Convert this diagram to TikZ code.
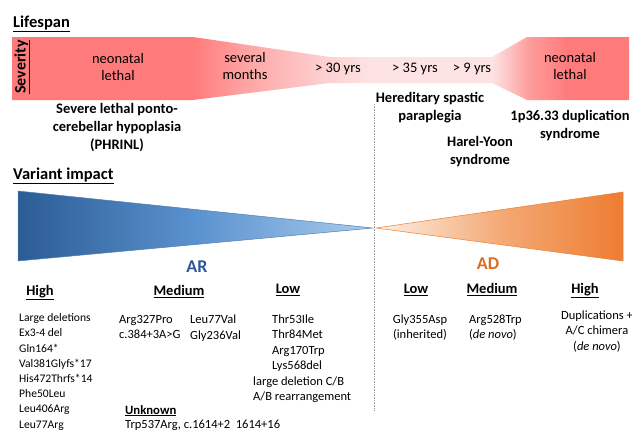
\documentclass[tikz,border=0pt]{standalone}
\usepackage{fontspec}
\setmainfont{Carlito}
\usepackage{tikz}
\usetikzlibrary{calc}

\definecolor{sevred}{HTML}{FF7B7B}
\definecolor{sevpink}{HTML}{FDE3E3}
\definecolor{ardark}{HTML}{2C5C95}
\definecolor{armid}{HTML}{5A92CF}
\definecolor{arlight}{HTML}{AACCEC}
\definecolor{artext}{HTML}{2F5597}
\definecolor{adlight}{HTML}{FDF0E7}
\definecolor{admid}{HTML}{F4AA76}
\definecolor{adorange}{HTML}{ED7D31}
\definecolor{adtext}{HTML}{DB6C22}

% band: solid red, fading to pink in the middle, red again on the right
\pgfdeclarehorizontalshading{severityshade}{100bp}{color(0bp)=(sevred); color(39.7bp)=(sevred);
    color(44bp)=(sevred!60!sevpink); color(50bp)=(sevred!20!sevpink); color(54bp)=(sevpink);
    color(63.9bp)=(sevpink); color(67bp)=(sevred!70!sevpink); color(70bp)=(sevred); color(100bp)=(sevred)}

\begin{document}
\begin{tikzpicture}[
        x=1pt, y=-1pt,
        title/.style={
            font=\fontsize{16.5}{20}\selectfont\bfseries,
            anchor=base west,
            inner sep=0pt
        },
        bandtext/.style={
            font=\fontsize{14.5}{17}\selectfont,
            align=center,
            inner sep=0pt
        },
        disease/.style={
            font=\fontsize{14.5}{18}\selectfont\bfseries,
            align=center,
            anchor=north,
            inner sep=0pt
        },
        header/.style={
            font=\fontsize{14.5}{17}\selectfont\bfseries,
            anchor=base,
            inner sep=0pt
        },
        variants/.style={
            font=\fontsize{12.5}{15.5}\selectfont,
            align=left,
            anchor=north west,
            inner sep=0pt
        },
        inheritance/.style={
            font=\fontsize{18}{20}\selectfont\bfseries,
            anchor=base,
            inner sep=0pt
        }
    ]

        \useasboundingbox (0,0) rectangle (632,431);

        % lifespan band
        \node[title] (lifespan) at (13,27.5) {\underline{Lifespan}};
        \path[shading=severityshade] (12,37) -- (193,37) -- (330,57) -- (492,57) -- (527,37) -- (629,37)
            -- (629,100) -- (527,100) -- (492,83) -- (330,83) -- (193,100) -- (12,100) -- cycle;
        \node[font=\fontsize{16}{18}\selectfont\bfseries, rotate=90, anchor=base, inner sep=0pt] (severity) at (25.5,67) {\underline{Severity}};

        \node[bandtext] (neolethal) at (118,67.5) {neonatal\\lethal};
        \node[bandtext] (months) at (245,66.5) {several\\months};
        \node[bandtext, anchor=base] (thirty) at (338,72.5) {> 30 yrs};
        \node[bandtext, anchor=base] (thirtyfive) at (415,72.5) {> 35 yrs};
        \node[bandtext, anchor=base] (nine) at (472,72.5) {> 9 yrs};
        \node[bandtext] (duplethal) at (570,66.5) {neonatal\\lethal};

        \node[disease] (phrinl) at (117,103.5) {Severe lethal ponto-\\cerebellar hypoplasia\\(PHRINL)};
        \node[disease] (hsp) at (430,92.5) {Hereditary spastic\\paraplegia};
        \node[disease] (hys) at (480,136.5) {Harel-Yoon\\syndrome};
        \node[disease] (dup) at (570,110.5) {1p36.33 duplication\\syndrome};

        % variant impact
        \node[title] (impact) at (13,179.5) {\underline{Variant impact}};
        \coordinate (split) at (374.5,228);
        \draw[left color=ardark, right color=arlight, middle color=armid, draw=ardark!70!arlight, line width=0.5pt]
            (18,191) -- (373,228) -- (18,261) -- cycle;
        \draw[left color=adlight, right color=adorange, middle color=admid, draw=adorange, line width=0.5pt]
            (376,228) -- (623,192) -- (623,261) -- cycle;
        \draw[densely dotted, gray!80, line width=0.6pt] (split |- 0,104) coordinate (divtop) -- (split |- 0,410) coordinate (divbot);

        \node[inheritance, text=artext] (ar) at (197,272) {AR};
        \node[inheritance, text=adtext] (ad) at (488,269) {AD};

        % AR variants
        \node[header] (arhigh) at (40,295.5) {\underline{High}};
        \node[header] (armedium) at (179,295.5) {\underline{Medium}};
        \node[header] (arlow) at (288,293.5) {\underline{Low}};
        \node[variants, font=\fontsize{11.6}{15.2}\selectfont] (highlist) at (19,313.5)
            {Large deletions\\Ex3-4 del\\Gln164*\\Val381Glyfs*17\\His472Thrfs*14\\Phe50Leu\\Leu406Arg\\Leu77Arg};
        \node[variants] (mediumlist) at (119,315) {Arg327Pro\\c.384+3A>G};
        \node[variants] (mediumlisttwo) at (190,315) {Leu77Val\\Gly236Val};
        \node[variants] (lowlist) at (272,314.5) {Thr53Ile\\Thr84Met\\Arg170Trp\\Lys568del};
        \node[variants] (lowlisttwo) at (253,376.5) {large deletion C/B\\A/B rearrangement};
        \node[header, font=\fontsize{12.7}{15}\selectfont\bfseries, anchor=base west] (unknown) at (125,414) {\underline{Unknown}};
        \node[variants, anchor=base west] (unknownlist) at (125,428) {Trp537Arg, c.1614+2\ \ 1614+16};

        % AD variants
        \node[header] (adlow) at (416,293.5) {\underline{Low}};
        \node[header] (admedium) at (492,293.5) {\underline{Medium}};
        \node[header] (adhigh) at (585,293.5) {\underline{High}};
        \node[variants, align=center, anchor=north] (lowad) at (420,314.5) {Gly355Asp\\(inherited)};
        \node[variants] (mediumad) at (469,314.5) {Arg528Trp\\(\emph{de novo})};
        \node[variants, align=center, anchor=north] (highad) at (597,310.5) {Duplications +\\A/C chimera\\(\emph{de novo})};

    \end{tikzpicture}
\end{document}
